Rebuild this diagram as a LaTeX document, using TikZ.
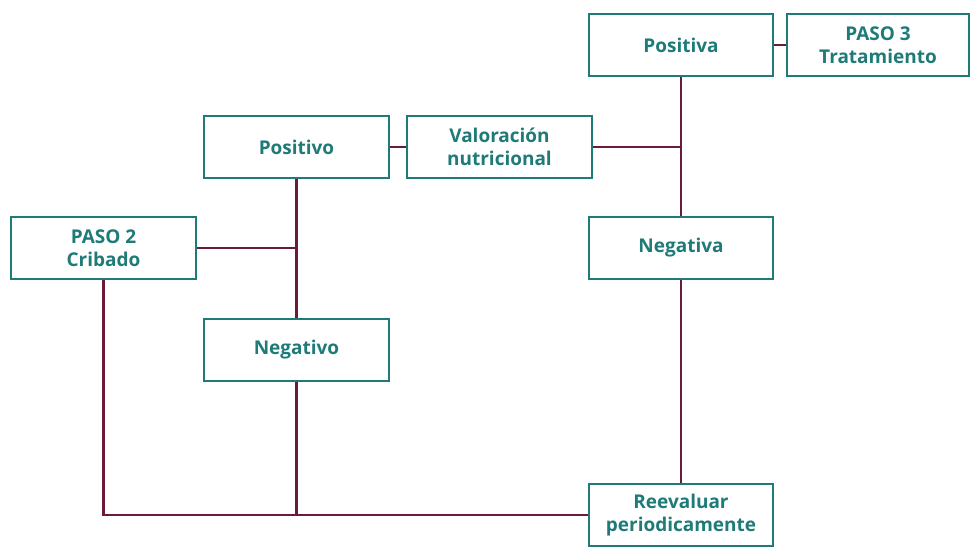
\documentclass[tikz,border=0pt]{standalone}
\usepackage{fontspec}
\setmainfont{Open Sans}
\usepackage{tikz}

\definecolor{boxteal}{HTML}{1E7B78}
\definecolor{linkred}{HTML}{6B1A3D}

\begin{document}
\begin{tikzpicture}[x=0.02cm,y=-0.02cm,
  caja/.style={draw=boxteal,line width=1.2pt,fill=white,text=boxteal,
    minimum width=3.68cm,minimum height=1.24cm,align=center,
    font=\fontsize{10.8}{13.2}\selectfont\bfseries,inner sep=0pt},
  enlace/.style={draw=linkred,line width=1.4pt}]
\useasboundingbox (0,0) rectangle (971,552);

% boxes
\node[caja] (positiva) at (681,45) {Positiva};
\node[caja,minimum width=3.64cm] (paso3) at (878,45) {PASO 3\\Tratamiento};
\node[caja,minimum width=3.70cm] (positivo) at (296.5,147) {Positivo};
\node[caja,minimum width=3.70cm] (valor) at (499.5,147) {Valoración\\nutricional};
\node[caja,minimum width=3.70cm] (paso2) at (103.5,248) {PASO 2\\Cribado};
\node[caja] (negativa) at (681,248) {Negativa};
\node[caja,minimum width=3.70cm] (negativo) at (296.5,350) {Negativo};
\node[caja] (reeval) at (681,515) {Reevaluar\\periodicamente};

% connectors
\coordinate (j1) at (681,147);
\coordinate (j2) at (296.5,248);
\coordinate (j3) at (296.5,515);
\coordinate (j4) at (103.5,515);
\draw[enlace] (positiva) -- (paso3);
\draw[enlace] (positivo) -- (valor);
\draw[enlace] (valor.east) -- (j1);
\draw[enlace] (positiva) -- (negativa);
\draw[enlace] (negativa) -- (reeval);
\draw[enlace] (positivo) -- (negativo);
\draw[enlace] (paso2.east) -- (j2);
\draw[enlace] (negativo) -- (j3);
\draw[enlace] (paso2) -- (j4) -- (reeval.west);
\end{tikzpicture}
\end{document}
